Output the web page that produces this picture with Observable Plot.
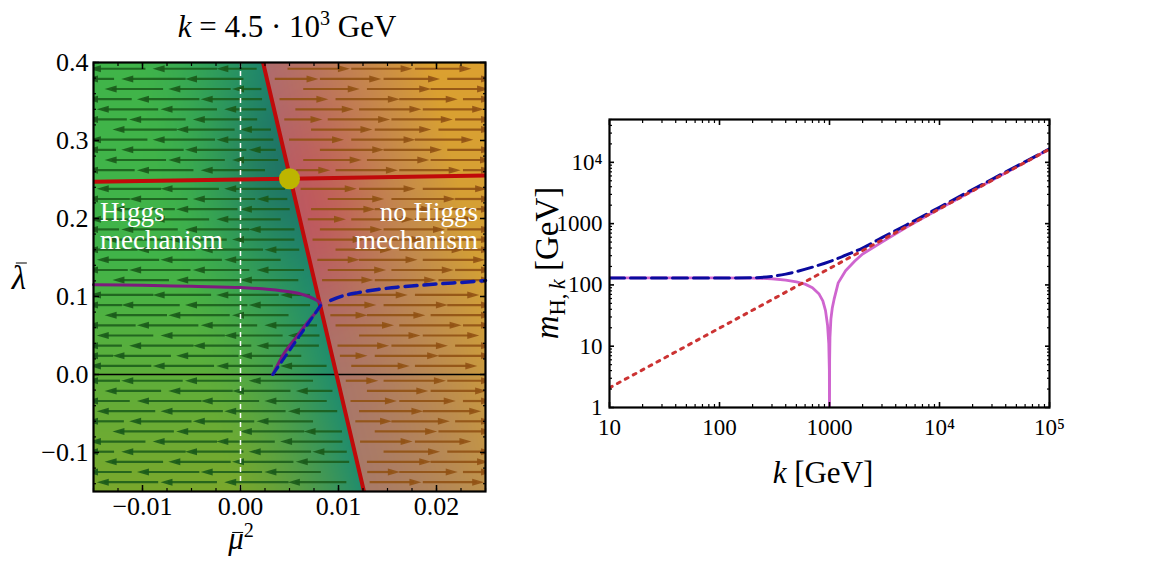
<!DOCTYPE html>
<html><head><meta charset="utf-8">
<script src="https://cdn.jsdelivr.net/npm/d3@7"></script>
<script src="https://cdn.jsdelivr.net/npm/@observablehq/plot@0.6"></script>
<style>
body{margin:0;background:#fff;}
#wrap{position:relative;width:1151px;height:568px;overflow:hidden;font-family:"Liberation Serif",serif;color:#000;}
#wrap svg{position:absolute;top:0;background:transparent !important;}
.lbl{position:absolute;white-space:nowrap;transform:translate(-50%,-50%);line-height:1;}
.bar{position:relative;display:inline-block;}
.bar > b{position:absolute;border-top:1.6px solid currentColor;}
</style></head><body><div id="wrap"></div>
<script>
// ---------- left panel data ----------
const muDomain = [-0.015, 0.025];
const lamDomain = [-0.15, 0.4];
const muTicks = [-0.01, 0, 0.01, 0.02];
const lamTicks = [-0.1, 0, 0.1, 0.2, 0.3, 0.4];
const muMinor = [-0.015,-0.0125,-0.01,-0.0075,-0.005,-0.0025,0,0.0025,0.005,0.0075,0.01,0.0125,0.015,0.0175,0.02,0.0225,0.025];
const lamMinor = [-0.14,-0.12,-0.1,-0.08,-0.06,-0.04,-0.02,0,0.02,0.04,0.06,0.08,0.1,0.12,0.14,0.16,0.18,0.2,0.22,0.24,0.26,0.28,0.3,0.32,0.34,0.36,0.38,0.4];
const separatrixMu = [0.0023, 0.0126];
const separatrixLam = [0.4, -0.15];
const ridgeMu = [-0.015, 0.005, 0.025];
const ridgeLam = [0.247, 0.251, 0.255];
const fixedMu = [0.005];
const fixedLam = [0.251];
const purpleMu = [-0.015,-0.01,-0.005,0,0.003,0.005,0.0065,0.0075,0.0081,0.0082,0.0077,0.0068,0.0057,0.0045,0.0033];
const purpleLam = [0.115,0.1145,0.113,0.1115,0.109,0.106,0.102,0.097,0.092,0.089,0.080,0.066,0.048,0.028,0.0];
const blueLowMu = [0.0033, 0.0082];
const blueLowLam = [0.0, 0.089];
const blueUpMu = [0.0092,0.0105,0.012,0.014,0.016,0.018,0.02,0.0225,0.025];
const blueUpLam = [0.095,0.101,0.105,0.109,0.112,0.114,0.116,0.118,0.1205];
const streamRows = [0.392,0.379,0.366,0.353,0.340,0.327,0.314,0.301,0.288,0.275,0.262,0.238,0.225,0.212,0.199,0.186,0.173,0.160,0.147,0.134,0.121,0.102,0.089,0.076,0.063,0.050,0.037,0.024,0.011,-0.008,-0.021,-0.034,-0.047,-0.060,-0.073,-0.086,-0.099,-0.112,-0.125,-0.138];
const streamStarts = [-0.0212,-0.0147,-0.0082,-0.0017,0.0048,0.0113,0.0178,0.0243];
const rowShift = [0, 0.0033, 0.0016, 0.0049, 0.0008, 0.0041, 0.0024];
const arrowLens = [0.0055, 0.0050, 0.0058, 0.0052, 0.0056];

// ---------- right panel data ----------
const kTicks = [10, 100, 1000, 1e4, 1e5];
const kTickLabels = ["10", "100", "1000", "10⁴", "10⁵"];
const mTicks = [1, 10, 100, 1000, 1e4];
const mTickLabels = ["1", "10", "100", "1000", "10⁴"];
const blueK = [10,100,200,300,400,500,700,1000,1500,2000,3000,5000,1e4,3e4,1e5];
const blueM = [130,130,131,138,150,165,195,240,320,400,590,950,1850,5300,16600];
const magK = [10,100,200,300,400,500,600,700,800,870,920,960,985,997,1000,1003,1010,1030,1060,1100,1200,1400,1700,2000,3000,5000,1e4,3e4,1e5];
const magM = [130,130,129,126,120,112,103,90,72,55,38,22,11,4,0.5,6,14,28,42,58,108,170,245,320,500,870,1750,5100,16500];
const dotK = [10, 1e5];
const dotM = [2.1, 16400];

// ---------- derived ----------
const sepMu = lam => separatrixMu[0] + (lam - separatrixLam[0]) * (separatrixMu[1] - separatrixMu[0]) / (separatrixLam[1] - separatrixLam[0]);
const zip = (xs, ys) => xs.map((x, i) => ({x, y: ys[i]}));
const separatrix = zip(separatrixMu, separatrixLam);
const ridge = zip(ridgeMu, ridgeLam);
const fixed = zip(fixedMu, fixedLam);
const purple = zip(purpleMu, purpleLam);
const blueLow = zip(blueLowMu, blueLowLam);
const blueUp = zip(blueUpMu, blueUpLam);

const greenArrows = [], brownArrows = [];
streamRows.forEach((lam, i) => {
  const s = sepMu(lam), gap = 0.0008;
  streamStarts.forEach((x0, j) => {
    let a = x0 + rowShift[i % rowShift.length];
    let b = a + arrowLens[(i + j) % arrowLens.length];
    a = Math.max(muDomain[0], a); b = Math.min(muDomain[1], b);
    const ga = a, gb = Math.min(b, s - gap);
    if (gb - ga > 0.0018) greenArrows.push({x1: ga, x2: gb, y: lam});
    const ba = Math.max(a, s + gap), bb = b;
    if (bb - ba > 0.0018) brownArrows.push({x1: ba, x2: bb, y: lam});
  });
});

// narrow arrowhead symbol (points up before rotation)
const arrowHead = {
  draw(context, size) {
    const r = Math.sqrt(size / Math.PI);
    context.moveTo(0, -1.5 * r);
    context.lineTo(0.7 * r, 0.9 * r);
    context.lineTo(-0.7 * r, 0.9 * r);
    context.closePath();
  }
};

const ip = d3.interpolateRgb;
function bgColor(x, y) {
  const t = Math.max(0, Math.min(1, (y - lamDomain[0]) / (lamDomain[1] - lamDomain[0])));
  const d = x - sepMu(y);
  if (d < 0) {
    const far = ip("#7aa82c", "#40b449")(Math.min(1, t * 1.8));
    let s = Math.max(0, 1 + d / 0.014); s = Math.pow(s, 1.6);
    let c = ip(far, "#1f8c6e")(s);
    const gx = (x - 0.005) / 0.007, gy = (y - 0.27) / 0.12;
    return ip(c, "#1e6461")(0.6 * Math.exp(-(gx * gx + gy * gy)));
  } else {
    const near0 = ip("#a87a68", "#ad6e6e")(t);
    const gx = (x - 0.008) / 0.007, gy = (y - 0.22) / 0.14;
    const near = ip(near0, "#c2505c")(0.8 * Math.exp(-(gx * gx + gy * gy)));
    const far = ip("#c99e3c", "#dba030")(t);
    const s = Math.min(1, d / 0.017);
    return ip(near, far)(Math.pow(s, 1.3));
  }
}

const FONT = "Liberation Serif, serif";
const fmt = p => d => (d < 0 ? "\u2212" : "") + Math.abs(d).toFixed(p);
const style = {fontFamily: FONT, fontSize: "23px", background: "transparent", color: "black"};
const labL = {fontFamily: FONT, fontSize: 26, fill: "black", label: null};
const labR = {fontFamily: FONT, fontSize: 23, fill: "black", label: null};
const tk = {tickFormat: () => "", label: null};

const left = Plot.plot({
  width: 500, height: 560,
  marginLeft: 93, marginRight: 15, marginTop: 62, marginBottom: 69,
  x: {domain: muDomain}, y: {domain: lamDomain},
  color: {type: "identity"},
  style,
  marks: [
    Plot.raster({x1: muDomain[0], x2: muDomain[1], y1: lamDomain[0], y2: lamDomain[1], fill: bgColor, pixelSize: 1}),
    Plot.link(greenArrows, {x1: "x1", x2: "x2", y1: "y", y2: "y", stroke: "#1a5a1a", strokeOpacity: 0.85, strokeWidth: 2.2, clip: true}),
    Plot.dot(greenArrows, {x: "x1", y: "y", symbol: arrowHead, rotate: -90, r: 5, fill: "#1a5a1a", fillOpacity: 0.9, stroke: null, clip: true}),
    Plot.link(brownArrows, {x1: "x1", x2: "x2", y1: "y", y2: "y", stroke: "#915214", strokeOpacity: 0.9, strokeWidth: 2.2, clip: true}),
    Plot.dot(brownArrows, {x: "x2", y: "y", symbol: arrowHead, rotate: 90, r: 5, fill: "#915214", fillOpacity: 0.9, stroke: null, clip: true}),
    Plot.ruleX([0], {stroke: "white", strokeDasharray: "5,4", strokeWidth: 1.5}),
    Plot.ruleY([0], {stroke: "black", strokeWidth: 1.5}),
    Plot.line(separatrix, {x: "x", y: "y", stroke: "#c00a0a", strokeWidth: 4, clip: true}),
    Plot.line(ridge, {x: "x", y: "y", stroke: "#c00a0a", strokeWidth: 4, clip: true}),
    Plot.line(purple, {x: "x", y: "y", stroke: "#7d1a7d", strokeWidth: 3, curve: "catmull-rom"}),
    Plot.line(blueLow, {x: "x", y: "y", stroke: "#0d17b0", strokeWidth: 3, strokeDasharray: "9,6"}),
    Plot.line(blueUp, {x: "x", y: "y", stroke: "#0d17b0", strokeWidth: 3.5, strokeDasharray: "12,7", curve: "catmull-rom"}),
    Plot.dot(fixed, {x: "x", y: "y", r: 10.5, fill: "#bdb500", stroke: null}),
    Plot.axisX({ticks: muTicks, tickFormat: fmt(2), tickSize: 0, tickPadding: 5, ...labL}),
    Plot.axisY({ticks: lamTicks, tickFormat: fmt(1), tickSize: 0, tickPadding: 5, ...labL}),
    Plot.axisX({anchor: "bottom", ticks: muTicks, tickSize: -6, strokeWidth: 1.5, ...tk}),
    Plot.axisX({anchor: "bottom", ticks: muMinor, tickSize: -3, strokeWidth: 1.2, ...tk}),
    Plot.axisX({anchor: "top", ticks: muTicks, tickSize: -6, strokeWidth: 1.5, ...tk}),
    Plot.axisX({anchor: "top", ticks: muMinor, tickSize: -3, strokeWidth: 1.2, ...tk}),
    Plot.axisY({anchor: "left", ticks: lamTicks, tickSize: -6, strokeWidth: 1.5, ...tk}),
    Plot.axisY({anchor: "left", ticks: lamMinor, tickSize: -3, strokeWidth: 1.2, ...tk}),
    Plot.axisY({anchor: "right", ticks: lamTicks, tickSize: -6, strokeWidth: 1.5, ...tk}),
    Plot.axisY({anchor: "right", ticks: lamMinor, tickSize: -3, strokeWidth: 1.2, ...tk}),
    Plot.frame({stroke: "black", strokeWidth: 2.2})
  ]
});
left.style.left = "0px";

const kMinor = [], mMinor = [];
kTicks.slice(0, -1).forEach(t => { for (let j = 2; j <= 9; j++) kMinor.push(t * j); });
mTicks.forEach(t => { for (let j = 2; j <= 9; j++) if (t * j <= 5e4) mMinor.push(t * j); });
const kFmt = d => kTickLabels[kTicks.findIndex(t => Math.abs(t - d) / t < 1e-6)];
const mFmt = d => mTickLabels[mTicks.findIndex(t => Math.abs(t - d) / t < 1e-6)];

const right = Plot.plot({
  width: 560, height: 500,
  marginLeft: 69, marginRight: 51, marginTop: 119, marginBottom: 93,
  x: {type: "log", domain: [10, 1e5]},
  y: {type: "log", domain: [1, 5e4]},
  style,
  marks: [
    Plot.line(zip(magK, magM), {x: "x", y: "y", stroke: "#cf65cf", strokeWidth: 2.8, clip: true}),
    Plot.line(zip(blueK, blueM), {x: "x", y: "y", stroke: "#0a0a9e", strokeWidth: 3, strokeDasharray: "15,6", curve: "monotone-x", clip: true}),
    Plot.line(zip(dotK, dotM), {x: "x", y: "y", stroke: "#cc3333", strokeWidth: 3, strokeDasharray: "3,6", clip: true}),
    Plot.axisX({ticks: kTicks, tickFormat: kFmt, tickSize: 0, tickPadding: 11, ...labR}),
    Plot.axisY({ticks: mTicks, tickFormat: mFmt, tickSize: 0, tickPadding: 7, ...labR}),
    Plot.axisX({anchor: "bottom", ticks: kTicks, tickSize: -5, strokeWidth: 1.6, ...tk}),
    Plot.axisX({anchor: "bottom", ticks: kMinor, tickSize: -3, strokeWidth: 1.2, ...tk}),
    Plot.axisX({anchor: "top", ticks: kTicks, tickSize: -5, strokeWidth: 1.6, ...tk}),
    Plot.axisX({anchor: "top", ticks: kMinor, tickSize: -3, strokeWidth: 1.2, ...tk}),
    Plot.axisY({anchor: "left", ticks: mTicks, tickSize: -5, strokeWidth: 1.6, ...tk}),
    Plot.axisY({anchor: "left", ticks: mMinor, tickSize: -3, strokeWidth: 1.2, ...tk}),
    Plot.axisY({anchor: "right", ticks: mTicks, tickSize: -5, strokeWidth: 1.6, ...tk}),
    Plot.axisY({anchor: "right", ticks: mMinor, tickSize: -3, strokeWidth: 1.2, ...tk}),
    Plot.frame({stroke: "black", strokeWidth: 2.2})
  ]
});
right.style.left = "540px";

const wrap = document.getElementById("wrap");
wrap.appendChild(left);
wrap.appendChild(right);

function label(html, cx, cy, size, extra = "", color = "black") {
  const d = document.createElement("div");
  d.className = "lbl";
  d.style.left = cx + "px"; d.style.top = cy + "px"; d.style.fontSize = size + "px"; d.style.color = color;
  d.style.transform = extra || "translate(-50%,-50%)";
  d.innerHTML = html;
  wrap.appendChild(d);
}
label('<i>k</i> = 4.5 · 10<sup style="font-size:65%;vertical-align:0.55em">3</sup> GeV', 287, 25, 31);
label('<span class="bar"><i>λ</i><b style="left:0.12em;right:-0.02em;top:0.02em"></b></span>', 19, 278, 33);
label('<span class="bar"><i>μ</i><b style="left:0.12em;right:0.02em;top:0.28em"></b></span><sup style="font-size:65%;vertical-align:0.6em">2</sup>', 241, 537, 31);
label('<i>k</i> [GeV]', 823, 472, 31);
label('<i>m</i><sub style="font-size:68%;vertical-align:-0.3em">H,&thinsp;<i>k</i></sub> [GeV]', 550, 263, 33, "translate(-50%,-50%) rotate(-90deg)");
// region annotations
label('Higgs', 100, 212, 27, "translate(0,-50%)", "white");
label('mechanism', 100, 240, 27, "translate(0,-50%)", "white");
label('no Higgs', 478, 212, 27, "translate(-100%,-50%)", "white");
label('mechanism', 478, 240, 27, "translate(-100%,-50%)", "white");
</script></body></html>
